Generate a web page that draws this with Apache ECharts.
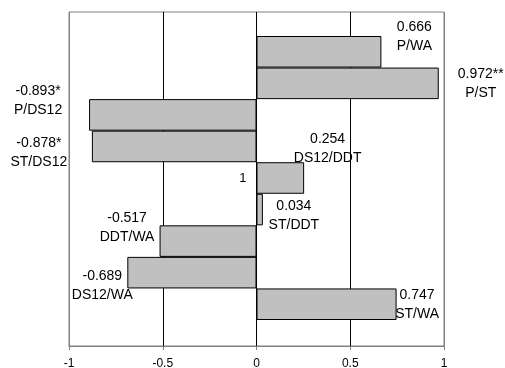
<!DOCTYPE html>
<html><head><meta charset="utf-8">
<script src="https://cdn.jsdelivr.net/npm/echarts@6/dist/echarts.min.js"></script>
<style>html,body{margin:0;padding:0;background:#fff}#c{width:505px;height:368px}</style>
</head><body><div id="c"></div>
<script>
const pairNames = ['P/WA', 'P/ST', 'P/DS12', 'ST/DS12', 'DS12/DDT', 'ST/DDT', 'DDT/WA', 'DS12/WA', 'ST/WA'];
const values = [0.666, 0.972, -0.893, -0.878, 0.254, 0.034, -0.517, -0.689, 0.747];
const valueTexts = ['0.666', '0.972**', '-0.893*', '-0.878*', '0.254', '0.034', '-0.517', '-0.689', '0.747'];
const categoryLabels = ['', '', '', '', '1', '', '', '', ''];
const xTickLabels = ['-1', '-0.5', '0', '0.5', '1'];
// label placement offsets (layout only)
const labelOffsets = [[33, -15], [42, 0], [-51, -14], [-53, 6], [23.5, -29.5], [31, 6.5], [-32.5, -13.5], [-25, 12.5], [20.5, 0]];

const FONT = '"Liberation Sans", Arial, sans-serif';
const GL = 69, GR = 61, W = 505;
const chart = echarts.init(document.getElementById('c'), null, {renderer: 'canvas'});
chart.setOption({
  animation: false,
  backgroundColor: '#fff',
  textStyle: {fontFamily: FONT},
  grid: [
    {left: GL, right: GR, top: 12, bottom: 22, show: true, borderColor: '#808080', borderWidth: 1, backgroundColor: 'transparent', outerBoundsMode: 'none'},
    {left: GL, right: GR, top: 36, bottom: 48, outerBoundsMode: 'none'}
  ],
  xAxis: [
    {
      gridIndex: 0, type: 'value', min: -1, max: 1, interval: 0.5,
      axisLine: {show: true, lineStyle: {color: '#808080', width: 1}},
      axisTick: {show: true, length: 4, lineStyle: {color: '#808080'}},
      axisLabel: {color: '#000', fontSize: 12, fontFamily: FONT, margin: 12,
        formatter: (v) => xTickLabels[Math.round((v + 1) / 0.5)]},
      splitLine: {show: true, lineStyle: {color: ['#808080', '#000', '#000', '#000', '#808080'], width: 1}}
    },
    {gridIndex: 1, type: 'value', min: -1, max: 1, show: false}
  ],
  yAxis: [
    {gridIndex: 0, type: 'value', min: 0, max: 1, show: false},
    {
      gridIndex: 1, type: 'category', inverse: true, data: categoryLabels,
      position: 'left', offset: -(W - GL - GR) / 2,
      axisLine: {show: false},
      axisTick: {show: false},
      splitLine: {show: false},
      axisLabel: {color: '#000', fontSize: 13, fontFamily: FONT, margin: 10, interval: 0}
    }
  ],
  series: [{
    type: 'bar', xAxisIndex: 1, yAxisIndex: 1, barCategoryGap: '0%', z: 3,
    itemStyle: {color: '#c0c0c0', borderColor: '#000', borderWidth: 1},
    label: {
      show: true, distance: 0, align: 'center', verticalAlign: 'middle',
      fontSize: 14, lineHeight: 19, color: '#000', fontFamily: FONT,
      formatter: (p) => valueTexts[p.dataIndex] + '\n' + pairNames[p.dataIndex]
    },
    data: values.map((v, i) => ({
      value: v,
      label: {position: v < 0 ? 'left' : 'right', offset: labelOffsets[i]}
    }))
  }]
});
</script>
</body></html>
